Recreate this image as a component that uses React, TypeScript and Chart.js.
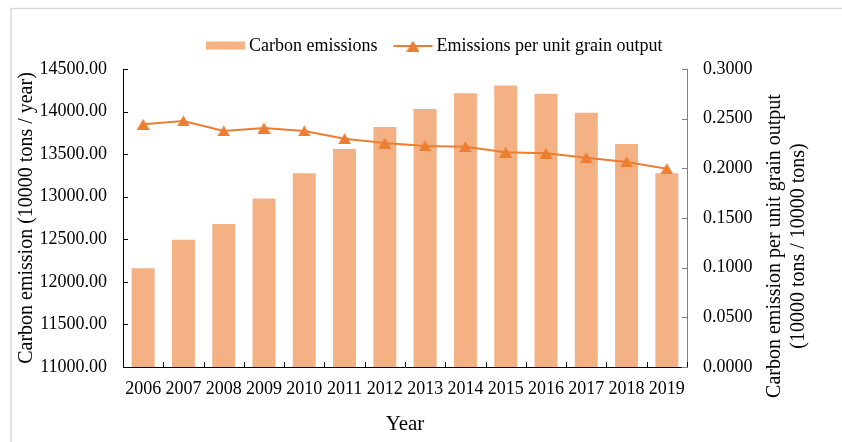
import { useEffect, useRef } from "react";
import { Chart, registerables } from "chart.js";

Chart.register(...registerables);

// ---------- data ----------
const years = ["2006", "2007", "2008", "2009", "2010", "2011", "2012", "2013", "2014", "2015", "2016", "2017", "2018", "2019"];
const carbonEmissions = [12160, 12495, 12680, 12980, 13275, 13560, 13820, 14030, 14215, 14305, 14210, 13985, 13620, 13275];
const emissionsPerUnitGrain = [0.2443, 0.2477, 0.2376, 0.2406, 0.2376, 0.2298, 0.2255, 0.2225, 0.2218, 0.2161, 0.2151, 0.2107, 0.2064, 0.1996];

const leftAxisRange = [11000, 14500];
const leftAxisStep = 500;
const rightAxisRange = [0, 0.3];
const rightAxisStep = 0.05;

const barSeriesLabel = "Carbon emissions";
const lineSeriesLabel = "Emissions per unit grain output";
const leftAxisTitle = "Carbon emission (10000 tons / year)";
const rightAxisTitle = ["Carbon emission per unit grain output", "(10000 tons / 10000 tons)"];
const xAxisTitle = "Year";

// ---------- styles ----------
const BAR_COLOR = "#F4B183";
const LINE_COLOR = "#ED7D31";
const FONT = '"Liberation Serif", "Times New Roman", serif';
const TEXT = "#000000";

function makeTriangle(w: number, h: number, color: string) {
  const c = document.createElement("canvas");
  c.width = w;
  c.height = h;
  const ctx = c.getContext("2d")!;
  ctx.fillStyle = color;
  ctx.beginPath();
  ctx.moveTo(w / 2, 0);
  ctx.lineTo(w, h);
  ctx.lineTo(0, h);
  ctx.closePath();
  ctx.fill();
  return c;
}

export default function App() {
  const ref = useRef<HTMLCanvasElement | null>(null);

  useEffect(() => {
    const canvas = ref.current;
    if (!canvas) return;
    const TW = 13;
    const TH = 11;
    const tri = makeTriangle(TW, TH, LINE_COLOR);

    const background = {
      id: "bgFrame",
      beforeDraw(chart: any) {
        const { ctx, width, height } = chart;
        ctx.save();
        ctx.fillStyle = "#ffffff";
        ctx.fillRect(0, 0, width, height);
        ctx.strokeStyle = "#d9d9d9";
        ctx.lineWidth = 1.5;
        ctx.strokeRect(11, 8.5, width + 20, height + 20);
        ctx.restore();
      },
    };

    const insideTicks = {
      id: "insideTicks",
      afterDatasetsDraw(chart: any) {
        const { ctx, chartArea, scales } = chart;
        const x = scales.x;
        const y = scales.y;
        const y1 = scales.y1;
        ctx.save();
        ctx.lineWidth = 1;
        ctx.strokeStyle = "#000";
        ctx.beginPath();
        y.ticks.forEach((_t: any, i: number) => {
          const py = Math.round(y.getPixelForTick(i)) + 0.5;
          ctx.moveTo(chartArea.left, py);
          ctx.lineTo(chartArea.left + 5, py);
        });
        for (let i = 0; i <= years.length; i++) {
          const px = Math.round(x.getPixelForValue(i - 0.5)) + 0.5;
          ctx.moveTo(px, chartArea.bottom);
          ctx.lineTo(px, chartArea.bottom - 5);
        }
        ctx.stroke();
        ctx.strokeStyle = "#808080";
        ctx.beginPath();
        y1.ticks.forEach((_t: any, i: number) => {
          const py = Math.round(y1.getPixelForTick(i)) + 0.5;
          ctx.moveTo(chartArea.right, py);
          ctx.lineTo(chartArea.right - 5, py);
        });
        ctx.stroke();
        ctx.restore();
      },
    };

    const legendAndTitle = {
      id: "legendAndTitle",
      afterDraw(chart: any) {
        const { ctx, chartArea } = chart;
        ctx.save();
        ctx.font = `18px ${FONT}`;
        ctx.textBaseline = "middle";
        ctx.textAlign = "left";
        const cy = 46;
        let cx = 206;
        ctx.fillStyle = BAR_COLOR;
        ctx.fillRect(cx, cy - 4.5, 39, 8);
        cx += 43;
        ctx.fillStyle = TEXT;
        ctx.fillText(barSeriesLabel, cx, cy);
        cx += ctx.measureText(barSeriesLabel).width + 16;
        ctx.strokeStyle = LINE_COLOR;
        ctx.lineWidth = 2;
        ctx.beginPath();
        ctx.moveTo(cx, cy);
        ctx.lineTo(cx + 39, cy);
        ctx.stroke();
        ctx.drawImage(tri, cx + 19.5 - TW / 2, cy - TH / 2);
        cx += 43;
        ctx.fillStyle = TEXT;
        ctx.fillText(lineSeriesLabel, cx, cy);

        // right axis title (rotated like the left one)
        ctx.font = `20px ${FONT}`;
        ctx.textAlign = "center";
        ctx.translate(chartArea.right + 88, 246);
        ctx.rotate(-Math.PI / 2);
        ctx.fillText(rightAxisTitle[0], 0, 0);
        ctx.fillText(rightAxisTitle[1], 0, 24);
        ctx.restore();
      },
    };

    const chart = new Chart(canvas, {
      type: "bar",
      data: {
        labels: years,
        datasets: [
          {
            type: "line",
            label: lineSeriesLabel,
            data: emissionsPerUnitGrain,
            yAxisID: "y1",
            borderColor: LINE_COLOR,
            backgroundColor: LINE_COLOR,
            borderWidth: 2,
            pointStyle: tri as any,
            pointRadius: 6,
            tension: 0,
            order: 0,
          } as any,
          {
            type: "bar",
            label: barSeriesLabel,
            data: carbonEmissions,
            yAxisID: "y",
            backgroundColor: BAR_COLOR,
            barPercentage: 0.57,
            categoryPercentage: 1,
            order: 1,
          },
        ],
      },
      options: {
        responsive: false,
        animation: false,
        layout: { padding: { top: 69, left: 0, right: 0, bottom: 0 } },
        plugins: {
          legend: { display: false },
          tooltip: { enabled: false },
        },
        scales: {
          x: {
            offset: true,
            grid: { display: false, drawTicks: false },
            border: { display: true, color: "#000", width: 1 },
            ticks: { color: TEXT, font: { family: FONT, size: 18 }, padding: 11, maxRotation: 0, autoSkip: false },
            title: { display: true, text: xAxisTitle, color: TEXT, font: { family: FONT, size: 21 }, padding: { top: 0, bottom: 5 } },
            afterFit(scale: any) {
              scale.height = 75;
            },
          },
          y: {
            position: "left",
            min: leftAxisRange[0],
            max: leftAxisRange[1],
            grid: { display: false, drawTicks: false },
            border: { display: true, color: "#000", width: 1 },
            ticks: {
              stepSize: leftAxisStep,
              color: TEXT,
              font: { family: FONT, size: 18 },
              padding: 16,
              callback: (v: any) => Number(v).toFixed(2),
            },
            title: { display: true, text: leftAxisTitle, color: TEXT, font: { family: FONT, size: 20 }, padding: { top: 15, bottom: 0 } },
            afterFit(scale: any) {
              scale.width = 123;
            },
          },
          y1: {
            position: "right",
            min: rightAxisRange[0],
            max: rightAxisRange[1],
            grid: { display: false, drawTicks: false },
            border: { display: true, color: "#808080", width: 1 },
            ticks: {
              stepSize: rightAxisStep,
              color: TEXT,
              font: { family: FONT, size: 18 },
              padding: 16,
              callback: (v: any) => Number(v).toFixed(4),
            },
            afterFit(scale: any) {
              scale.width = 155;
            },
          },
        },
      },
      plugins: [background, insideTicks, legendAndTitle],
    });

    return () => chart.destroy();
  }, []);

  return (
    <div style={{ position: "fixed", left: 0, top: 0, width: 842, height: 442, background: "#fff" }}>
      <canvas ref={ref} width={842} height={442} style={{ display: "block", width: 842, height: 442 }} />
    </div>
  );
}
